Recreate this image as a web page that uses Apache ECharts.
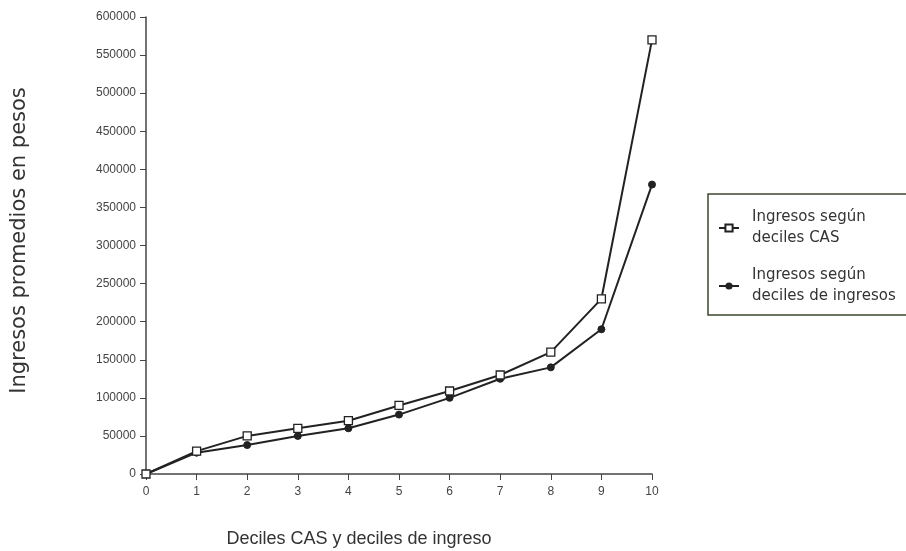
<!DOCTYPE html>
<html>
<head>
<meta charset="utf-8">
<script src="https://cdn.jsdelivr.net/npm/echarts@6/dist/echarts.min.js"></script>
<style>
  html, body { margin: 0; padding: 0; background: #fff; }
  #chart { width: 906px; height: 551px; }
</style>
</head>
<body>
<div id="chart"></div>
<script>
const deciles = [0, 1, 2, 3, 4, 5, 6, 7, 8, 9, 10]
const ingresosCAS = [0, 30000, 50000, 60000, 70000, 90000, 109000, 130000, 160000, 230000, 570000]
const ingresosDeciles = [0, 28000, 38000, 50000, 60000, 78000, 100000, 125000, 140000, 190000, 380000]

const pairs = (ys) => deciles.map((d, i) => [d, ys[i]])
const axisColor = '#444'

const chart = echarts.init(document.getElementById('chart'))
const option = {
  backgroundColor: '#fff',
  animation: false,
  textStyle: { fontFamily: 'Liberation Sans, Arial, sans-serif' },
  grid: { left: 146, right: 254, top: 17, bottom: 77, outerBoundsMode: 'none' },
  legend: {
    orient: 'vertical',
    left: 708,
    top: 194,
    padding: [13, 40, 8, 10],
    itemGap: 16,
    itemWidth: 20,
    itemHeight: 9,
    borderColor: '#3a4a2a',
    borderWidth: 1.5,
    textStyle: {
      fontFamily: 'DejaVu Sans, sans-serif',
      fontSize: 15,
      color: '#333',
      lineHeight: 21,
      padding: [0, 0, 0, 8]
    },
    data: ['Ingresos según\ndeciles CAS', 'Ingresos según\ndeciles de ingresos']
  },
  xAxis: {
    type: 'value',
    min: 0,
    max: 10,
    interval: 1,
    name: 'Deciles CAS y deciles de ingreso',
    nameLocation: 'middle',
    nameGap: 56,
    nameTextStyle: { fontSize: 18, color: '#333', padding: [0, 80, 0, 0] },
    axisLine: { lineStyle: { color: axisColor, width: 1.5 } },
    axisTick: { show: true, length: 6, lineStyle: { color: axisColor } },
    axisLabel: { color: '#444', fontSize: 12, margin: 12 },
    splitLine: { show: false }
  },
  yAxis: {
    type: 'value',
    min: 0,
    max: 600000,
    interval: 50000,
    name: 'Ingresos promedios en pesos',
    nameLocation: 'middle',
    nameGap: 116,
    nameTextStyle: {
      fontFamily: 'DejaVu Sans, sans-serif',
      fontSize: 21,
      color: '#333',
      padding: [0, 0, 0, 10]
    },
    axisLine: { show: true, lineStyle: { color: axisColor, width: 1.5 } },
    axisTick: { show: true, length: 6, lineStyle: { color: axisColor } },
    axisLabel: { color: '#444', fontSize: 12, margin: 10, formatter: (v) => String(v) },
    splitLine: { show: false }
  },
  series: [
    {
      name: 'Ingresos según\ndeciles CAS',
      type: 'line',
      data: pairs(ingresosCAS),
      symbol: 'rect',
      symbolSize: 8,
      itemStyle: { color: '#fff', borderColor: '#222', borderWidth: 1.3 },
      lineStyle: { color: '#222', width: 2 },
      z: 3
    },
    {
      name: 'Ingresos según\ndeciles de ingresos',
      type: 'line',
      data: pairs(ingresosDeciles),
      symbol: 'circle',
      symbolSize: 7,
      itemStyle: { color: '#222', borderColor: '#222' },
      lineStyle: { color: '#222', width: 2 },
      z: 2
    }
  ]
}
chart.setOption(option)
</script>
</body>
</html>
